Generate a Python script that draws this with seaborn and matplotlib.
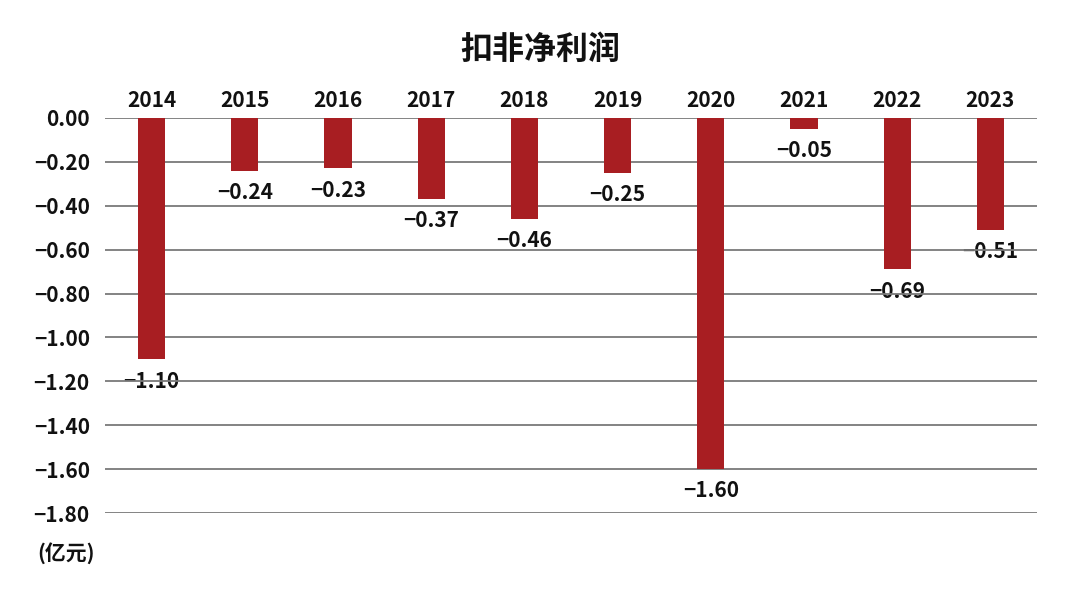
import matplotlib
matplotlib.use("Agg")
import matplotlib.pyplot as plt
import seaborn as sns
import pandas as pd

years = ["2014", "2015", "2016", "2017", "2018", "2019", "2020", "2021", "2022", "2023"]
profit = [-1.10, -0.24, -0.23, -0.37, -0.46, -0.25, -1.60, -0.05, -0.69, -0.51]
yticks = [0.0, -0.2, -0.4, -0.6, -0.8, -1.0, -1.2, -1.4, -1.6, -1.8]

sns.set_theme(style="white")
plt.rcParams['font.family'] = ['Noto Sans CJK SC', 'DejaVu Sans']


def fmt(v):
    s = f"{abs(v):.2f}"
    return ("\u2212" + s) if v < 0 else s


df = pd.DataFrame({"year": years, "profit": profit})

fig = plt.figure(figsize=(10.8, 5.99), dpi=100)
ax = fig.add_axes([105 / 1080, 1 - 513 / 599, (1037 - 105) / 1080, (513 - 118) / 599])

sns.barplot(data=df, x="year", y="profit", color="#A81E22", width=0.29,
            saturation=1, ax=ax, zorder=3, linewidth=0, edgecolor="none")

ax.set_ylim(-1.8, 0)
ax.set_yticks(yticks)
ax.set_yticklabels([fmt(v) for v in yticks])
ax.yaxis.grid(True, color="#7a7a7a", linewidth=1.3, zorder=1)
ax.set_axisbelow(False)
for sp in ax.spines.values():
    sp.set_visible(False)

ax.xaxis.tick_top()
ax.tick_params(axis="x", length=0, pad=5, labelsize=15)
ax.tick_params(axis="y", length=0, pad=11, labelsize=15)
for lab in ax.get_xticklabels() + ax.get_yticklabels():
    lab.set_fontweight("bold")
    lab.set_color("#111111")
ax.set_xlabel("")
ax.set_ylabel("")

for i, v in enumerate(profit):
    ax.annotate(fmt(v), (i, v), xytext=(0, -8), textcoords="offset points",
                ha="center", va="top", fontsize=15, fontweight="bold",
                color="#111111", zorder=2)

fig.text(0.5, 1 - 50 / 599, "扣非净利润", ha="center", va="center",
         fontsize=23, fontweight="bold", color="#111111")
fig.text(37 / 1080, 1 - 553 / 599, "(亿元)", ha="left", va="center",
         fontsize=15, fontweight="bold", color="#111111")

fig.savefig("out.png", dpi=100, facecolor="white")
